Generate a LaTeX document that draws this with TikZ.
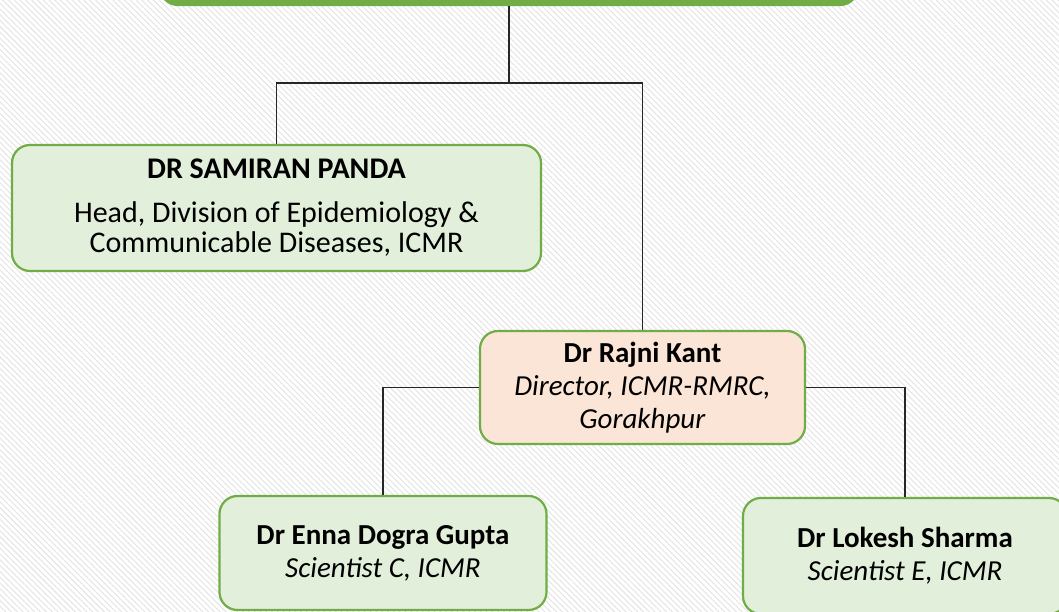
\documentclass[tikz,border=0pt]{standalone}
\usepackage{fontspec}
\setmainfont{Carlito}
\usetikzlibrary{positioning,patterns.meta}
\definecolor{leafgreen}{HTML}{70AD47}
\definecolor{palegreen}{HTML}{E2EFDA}
\definecolor{palepeach}{HTML}{FBE5D6}
\begin{document}
\begin{tikzpicture}[x=1pt,y=1pt,
    person/.style={draw=leafgreen, line width=2.2pt, rounded corners=18pt, fill=palegreen,
        align=center, inner sep=0pt, font=\fontsize{29}{33}\selectfont},
    link/.style={line width=1.2pt, black!85}]
        % Background
        \useasboundingbox (0,0) rectangle (1059,612);
        \fill[white] (0,0) rectangle (1059,612);
        \fill[pattern={Lines[angle=-45,distance=4.1pt,line width=0.9pt]}, pattern color=black!11] (0,0) rectangle (1059,612);
        \clip (0,0) rectangle (1059,612);

        % Boxes
        \node[person, fill=leafgreen, minimum width=698pt, minimum height=60pt] (top) at (509,637) {};
        \node[person, minimum width=529pt, minimum height=126pt, font=\fontsize{30}{30}\selectfont] (samiran) at (276.5,404)
            {\textbf{DR SAMIRAN PANDA}\\[14pt] Head, Division of Epidemiology \&\\ Communicable Diseases, ICMR};
        \node[person, fill=palepeach, minimum width=325pt, minimum height=113pt] (rajni) at (642.5,224.5)
            {\textbf{Dr Rajni Kant}\\ \textit{Director, ICMR-RMRC,}\\ \textit{Gorakhpur}};
        \node[person, minimum width=327pt, minimum height=114pt] (enna) at (383,59)
            {\textbf{Dr Enna Dogra Gupta}\\ \textit{Scientist C, ICMR}};
        \node[person, minimum width=324pt, minimum height=116pt] (lokesh) at (905,56)
            {\textbf{Dr Lokesh Sharma}\\ \textit{Scientist E, ICMR}};

        % Links
        \coordinate (bus) at (509,529);
        \draw[link] (top.south) -- (bus);
        \draw[link] (samiran.north) |- (bus) -| (rajni.north);
        \draw[link] (rajni.west) -| (enna.north);
        \draw[link] (rajni.east) -| (lokesh.north);
\end{tikzpicture}
\end{document}
